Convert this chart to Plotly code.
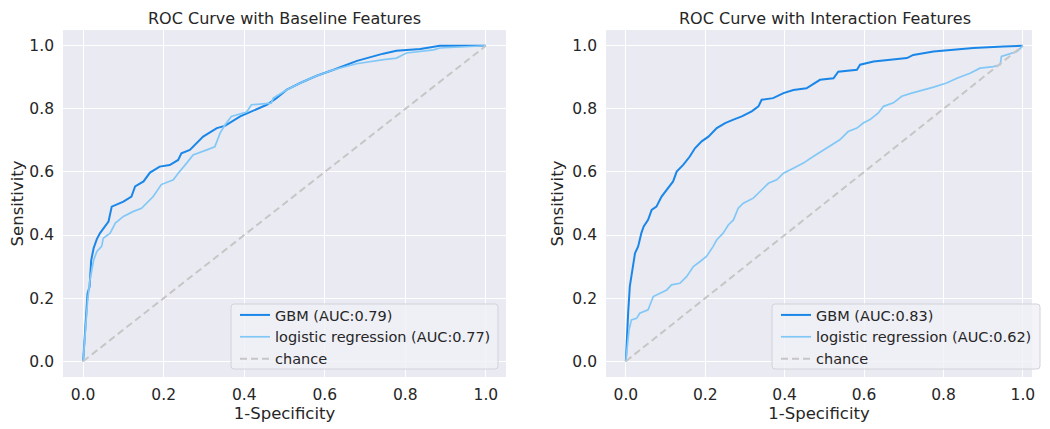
import plotly.graph_objects as go

# ---- Data ----
base_gbm_x = [0, 0.002, 0.007, 0.011, 0.016, 0.02, 0.026, 0.034, 0.042, 0.055, 0.063, 0.071, 0.08, 0.1, 0.12, 0.129, 0.15, 0.166, 0.19, 0.215, 0.236, 0.244, 0.265, 0.282, 0.298, 0.332, 0.352, 0.39, 0.418, 0.456, 0.48, 0.505, 0.539, 0.58, 0.622, 0.655, 0.68, 0.745, 0.778, 0.837, 0.886, 0.953, 1.0]
base_gbm_y = [0, 0.046, 0.15, 0.215, 0.237, 0.32, 0.358, 0.387, 0.406, 0.427, 0.443, 0.49, 0.495, 0.506, 0.522, 0.554, 0.57, 0.598, 0.617, 0.622, 0.638, 0.659, 0.67, 0.69, 0.712, 0.739, 0.746, 0.776, 0.791, 0.813, 0.834, 0.86, 0.882, 0.905, 0.924, 0.94, 0.952, 0.975, 0.984, 0.99, 1.0, 1.0, 1.0]

base_lr_x = [0, 0.005, 0.011, 0.017, 0.026, 0.034, 0.046, 0.05, 0.067, 0.08, 0.1, 0.125, 0.145, 0.174, 0.194, 0.224, 0.236, 0.257, 0.273, 0.307, 0.327, 0.34, 0.352, 0.368, 0.406, 0.418, 0.467, 0.472, 0.505, 0.539, 0.58, 0.622, 0.655, 0.679, 0.746, 0.778, 0.803, 0.87, 0.886, 0.953, 1.0]
base_lr_y = [0, 0.089, 0.19, 0.258, 0.32, 0.348, 0.364, 0.39, 0.406, 0.438, 0.459, 0.475, 0.485, 0.522, 0.56, 0.575, 0.596, 0.628, 0.654, 0.67, 0.68, 0.723, 0.749, 0.776, 0.79, 0.813, 0.818, 0.834, 0.86, 0.882, 0.905, 0.924, 0.934, 0.943, 0.956, 0.961, 0.977, 0.987, 0.993, 0.996, 1.0]

inter_gbm_x = [0, 0.003, 0.006, 0.01, 0.014, 0.018, 0.023, 0.031, 0.039, 0.045, 0.056, 0.065, 0.077, 0.09, 0.103, 0.119, 0.128, 0.145, 0.161, 0.174, 0.191, 0.208, 0.229, 0.25, 0.271, 0.292, 0.317, 0.334, 0.342, 0.371, 0.397, 0.422, 0.455, 0.476, 0.489, 0.523, 0.535, 0.582, 0.59, 0.624, 0.666, 0.708, 0.724, 0.775, 0.825, 0.875, 0.951, 1.0]
inter_gbm_y = [0, 0.11, 0.158, 0.237, 0.268, 0.3, 0.342, 0.364, 0.406, 0.427, 0.448, 0.48, 0.49, 0.522, 0.543, 0.57, 0.601, 0.623, 0.649, 0.675, 0.697, 0.712, 0.739, 0.755, 0.766, 0.776, 0.792, 0.808, 0.829, 0.834, 0.85, 0.86, 0.865, 0.882, 0.892, 0.897, 0.918, 0.924, 0.94, 0.95, 0.955, 0.961, 0.971, 0.982, 0.987, 0.993, 0.998, 1.0]

inter_lr_x = [0, 0.003, 0.008, 0.014, 0.027, 0.035, 0.056, 0.069, 0.086, 0.103, 0.115, 0.136, 0.153, 0.17, 0.187, 0.203, 0.22, 0.229, 0.245, 0.258, 0.271, 0.283, 0.296, 0.321, 0.338, 0.359, 0.38, 0.397, 0.422, 0.447, 0.472, 0.493, 0.518, 0.539, 0.56, 0.582, 0.598, 0.615, 0.636, 0.649, 0.674, 0.695, 0.72, 0.75, 0.775, 0.808, 0.834, 0.867, 0.892, 0.926, 0.943, 0.946, 0.96, 0.985, 1.0]
inter_lr_y = [0, 0.046, 0.1, 0.131, 0.136, 0.152, 0.163, 0.205, 0.216, 0.226, 0.242, 0.247, 0.268, 0.3, 0.316, 0.332, 0.364, 0.385, 0.406, 0.432, 0.448, 0.485, 0.501, 0.517, 0.538, 0.564, 0.575, 0.596, 0.612, 0.628, 0.649, 0.665, 0.686, 0.702, 0.728, 0.739, 0.755, 0.766, 0.787, 0.808, 0.819, 0.84, 0.85, 0.86, 0.869, 0.882, 0.897, 0.913, 0.929, 0.934, 0.94, 0.966, 0.971, 0.982, 1.0]

chance = [0, 1]

titles = ["ROC Curve with Baseline Features", "ROC Curve with Interaction Features"]
gbm_names = ["GBM (AUC:0.79)", "GBM (AUC:0.83)"]
lr_names = ["logistic regression (AUC:0.77)", "logistic regression (AUC:0.62)"]
ticks = [0.0, 0.2, 0.4, 0.6, 0.8, 1.0]
tick_text = ["0.0", "0.2", "0.4", "0.6", "0.8", "1.0"]

GBM_C = "#1a87e8"
LR_C = "#82c8f6"
CH_C = "#c6c6c6"
TXT = "#262626"
FONT = "DejaVu Sans"

# page has an 8px body margin; figure sized to fit the visible window
OFF = 8
W, H = 1050 - OFF, 429 - OFF


def px(p):
    return (p - OFF) / W


def py(p):
    return 1 - (p - OFF) / H


fig = go.Figure()

panels = [
    (base_gbm_x, base_gbm_y, base_lr_x, base_lr_y, "x", "y", "legend"),
    (inter_gbm_x, inter_gbm_y, inter_lr_x, inter_lr_y, "x2", "y2", "legend2"),
]
for i, (gx, gy, lx, ly, xa, ya, lg) in enumerate(panels):
    fig.add_trace(go.Scatter(x=gx, y=gy, mode="lines", name=gbm_names[i],
                             line=dict(color=GBM_C, width=2),
                             xaxis=xa, yaxis=ya, legend=lg))
    fig.add_trace(go.Scatter(x=lx, y=ly, mode="lines", name=lr_names[i],
                             line=dict(color=LR_C, width=1.7),
                             xaxis=xa, yaxis=ya, legend=lg))
    fig.add_trace(go.Scatter(x=chance, y=chance, mode="lines", name="chance",
                             line=dict(color=CH_C, width=2, dash="7px,4px"),
                             xaxis=xa, yaxis=ya, legend=lg))

ydom = [py(377), py(30)]
axis_common = dict(
    tickvals=ticks, ticktext=tick_text, showgrid=True, gridcolor="white",
    gridwidth=1.3, zeroline=False, showline=False, ticks="", automargin=False,
    tickfont=dict(family=FONT, size=15.5, color=TXT),
)
xt = dict(text="1-Specificity", font=dict(size=16.5, family=FONT, color=TXT), standoff=4)
yt = dict(text="Sensitivity", font=dict(size=16.5, family=FONT, color=TXT), standoff=4)

legend_common = dict(yanchor="top", xanchor="left", bgcolor="rgba(0,0,0,0)",
                     borderwidth=0, font=dict(family=FONT, size=14.5, color=TXT),
                     tracegroupgap=0, itemwidth=30)

fig.update_layout(
    width=W, height=H,
    margin=dict(l=0, r=0, t=0, b=0),
    paper_bgcolor="white",
    plot_bgcolor="#eaeaf2",
    font=dict(family=FONT, color=TXT),
    xaxis=dict(domain=[px(63), px(506)], range=[-0.05, 1.05], anchor="y",
               title=xt, ticklabelstandoff=6, **axis_common),
    yaxis=dict(domain=ydom, range=[-0.05, 1.05], anchor="x",
               title=yt, ticklabelstandoff=8, **axis_common),
    xaxis2=dict(domain=[px(606), px(1032)], range=[-0.05, 1.023], anchor="y2",
                title=xt, ticklabelstandoff=6, **axis_common),
    yaxis2=dict(domain=ydom, range=[-0.05, 1.05], anchor="x2",
                title=yt, ticklabelstandoff=8, **axis_common),
    legend=dict(x=px(235), y=py(299), **legend_common),
    legend2=dict(x=px(776), y=py(299), **legend_common),
    showlegend=True,
)


def rounded_rect(x0, y0, x1, y1, r=3):
    # pixel coords (reference) -> paper coords path with rounded corners
    rx, ry = r / W, r / H
    X0, X1 = px(x0), px(x1)
    Y0, Y1 = py(y1), py(y0)  # Y0 bottom, Y1 top
    return (f"M {X0+rx},{Y0} L {X1-rx},{Y0} Q {X1},{Y0} {X1},{Y0+ry} "
            f"L {X1},{Y1-ry} Q {X1},{Y1} {X1-rx},{Y1} L {X0+rx},{Y1} "
            f"Q {X0},{Y1} {X0},{Y1-ry} L {X0},{Y0+ry} Q {X0},{Y0} {X0+rx},{Y0} Z")


for (bx0, bx1) in [(231, 498), (772, 1040)]:
    fig.add_shape(type="path", path=rounded_rect(bx0, 304, bx1, 369),
                  xref="paper", yref="paper", layer="above",
                  fillcolor="rgba(240,240,246,0.82)",
                  line=dict(color="#d2d2da", width=1))

for i, xc in enumerate([(63 + 506) / 2, (606 + 1043) / 2]):
    fig.add_annotation(text=titles[i], x=px(xc), y=1, xref="paper", yref="paper",
                       xanchor="center", yanchor="top", showarrow=False, borderpad=0,
                       font=dict(family=FONT, size=16, color=TXT))

fig.write_html("out.html")
